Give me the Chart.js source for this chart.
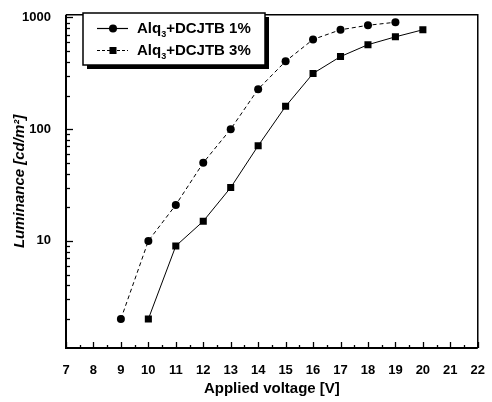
<!DOCTYPE html>
<html>
<head>
<meta charset="utf-8">
<script src="https://cdn.jsdelivr.net/npm/chart.js@4"></script>
<style>
html,body{margin:0;padding:0;background:#fff;}
#wrap{width:492px;height:402px;position:relative;}
</style>
</head>
<body>
<div id="wrap"><canvas id="c" width="492" height="402"></canvas></div>
<script>
// Data
const voltage1 = [9, 10, 11, 12, 13, 14, 15, 16, 17, 18, 19];
const lum1     = [2, 10, 21, 50, 100, 228, 405, 635, 775, 850, 905];
const voltage2 = [10, 11, 12, 13, 14, 15, 16, 17, 18, 19, 20];
const lum2     = [2, 9, 15, 30, 71, 160, 315, 446, 570, 670, 775];
const seriesNames = ["1%", "3%"];
const xTickValues = [7, 8, 9, 10, 11, 12, 13, 14, 15, 16, 17, 18, 19, 20, 21, 22];
const yDecades = [10, 100, 1000];

const FONT = "'Liberation Sans', Arial, sans-serif";

function yTickValues() {
  const v = [];
  for (let d = 1; d <= 1000; d *= 10) {
    for (let m = 1; m <= 9; m++) {
      const val = m * d;
      if (val >= 1.1 && val <= 1055) v.push(val);
    }
  }
  return v;
}

const framePlugin = {
  id: 'frame',
  afterDraw(chart) {
    const ctx = chart.ctx;
    const a = chart.chartArea;
    const xs = chart.scales.x, ys = chart.scales.y;
    ctx.save();
    ctx.strokeStyle = '#000';
    // ticks x (inward)
    ctx.lineWidth = 1.3;
    for (let v = 7; v <= 22; v += 0.5) {
      const px = Math.round(xs.getPixelForValue(v)) + 0.5;
      const len = Number.isInteger(v) ? 6 : 3;
      ctx.beginPath(); ctx.moveTo(px, a.bottom); ctx.lineTo(px, a.bottom - len); ctx.stroke();
    }
    // ticks y (inward)
    yTickValues().forEach(v => {
      const py = Math.round(ys.getPixelForValue(v)) + 0.5;
      const len = yDecades.includes(v) ? 7 : 4;
      ctx.beginPath(); ctx.moveTo(a.left, py); ctx.lineTo(a.left + len, py); ctx.stroke();
    });
    // frame
    ctx.lineWidth = 1.5;
    ctx.beginPath(); ctx.moveTo(a.left, a.top); ctx.lineTo(a.right, a.top); ctx.lineTo(a.right, a.bottom); ctx.stroke();
    ctx.lineWidth = 2;
    ctx.beginPath(); ctx.moveTo(a.left, a.top); ctx.lineTo(a.left, a.bottom); ctx.lineTo(a.right, a.bottom); ctx.stroke();

    // legend
    const bx = 83, by = 13, bw = 182, bh = 52;
    ctx.fillStyle = '#000';
    ctx.fillRect(bx + 4, by + 4, bw, bh);
    ctx.fillStyle = '#fff';
    ctx.fillRect(bx, by, bw, bh);
    ctx.lineWidth = 1.5;
    ctx.strokeRect(bx, by, bw, bh);
    const rows = [{y: 28, style: 'circle', dash: []}, {y: 50, style: 'rect', dash: [3, 2]}];
    rows.forEach((r, i) => {
      ctx.lineWidth = 1.2;
      ctx.setLineDash(r.dash);
      ctx.beginPath(); ctx.moveTo(97, r.y + 0.5); ctx.lineTo(128, r.y + 0.5); ctx.stroke();
      ctx.setLineDash([]);
      ctx.fillStyle = '#000';
      if (r.style === 'circle') {
        ctx.beginPath(); ctx.arc(113, r.y + 0.5, 4, 0, Math.PI * 2); ctx.fill();
      } else {
        ctx.fillRect(109.5, r.y - 3, 7, 7);
      }
      ctx.textBaseline = 'alphabetic';
      ctx.textAlign = 'left';
      const base = r.y + 5;
      ctx.font = 'bold 15px ' + FONT;
      let x = 137;
      ctx.fillText('Alq', x, base);
      x += ctx.measureText('Alq').width;
      ctx.font = 'bold 9px ' + FONT;
      ctx.fillText('3', x, base + 4);
      x += ctx.measureText('3').width;
      ctx.font = 'bold 15px ' + FONT;
      ctx.fillText('+DCJTB ' + seriesNames[i], x, base);
    });
    ctx.restore();
  }
};

const chart = new Chart(document.getElementById('c'), {
  type: 'scatter',
  data: {
    datasets: [
      {
        label: 'Alq3+DCJTB ' + seriesNames[0],
        data: voltage1.map((v, i) => ({x: v, y: lum1[i]})),
        showLine: true,
        borderColor: '#000',
        backgroundColor: '#000',
        borderWidth: 1,
        borderDash: [4, 3],
        pointStyle: 'circle',
        pointRadius: 4,
        pointBorderWidth: 0
      },
      {
        label: 'Alq3+DCJTB ' + seriesNames[1],
        data: voltage2.map((v, i) => ({x: v, y: lum2[i]})),
        showLine: true,
        borderColor: '#000',
        backgroundColor: '#000',
        borderWidth: 1,
        pointStyle: 'rect',
        pointRadius: 5,
        pointBorderWidth: 0
      }
    ]
  },
  options: {
    responsive: false,
    animation: false,
    devicePixelRatio: 1,
    layout: {padding: {left: 0, right: 8, top: 9, bottom: 0}},
    plugins: {legend: {display: false}, tooltip: {enabled: false}},
    scales: {
      x: {
        type: 'linear',
        min: 7, max: 22,
        afterBuildTicks: s => { s.ticks = xTickValues.map(v => ({value: v})); },
        afterFit: s => { s.height = 54; },
        grid: {display: false},
        border: {display: false},
        ticks: {
          autoSkip: false, maxRotation: 0, padding: 7,
          color: '#000', font: {family: FONT, size: 13, weight: 'bold'}
        },
        title: {
          display: true, text: 'Applied voltage [V]', color: '#000',
          font: {family: FONT, size: 15, weight: 'bold'},
          padding: {top: 0, bottom: 4}
        }
      },
      y: {
        type: 'logarithmic',
        min: 1.1, max: 1055,
        afterBuildTicks: s => { s.ticks = yTickValues().map(v => ({value: v})); },
        afterFit: s => { s.width = 66; },
        grid: {display: false},
        border: {display: false},
        ticks: {
          autoSkip: false, padding: 7,
          color: '#000', font: {family: FONT, size: 13, weight: 'bold'},
          callback: v => yDecades.includes(v) ? String(v) : ''
        },
        title: {
          display: true, text: 'Luminance [cd/m²]', color: '#000',
          font: {family: FONT, size: 15, weight: 'bold', style: 'italic'},
          padding: {top: 11, bottom: 0}
        }
      }
    }
  },
  plugins: [framePlugin]
});
</script>
</body>
</html>
